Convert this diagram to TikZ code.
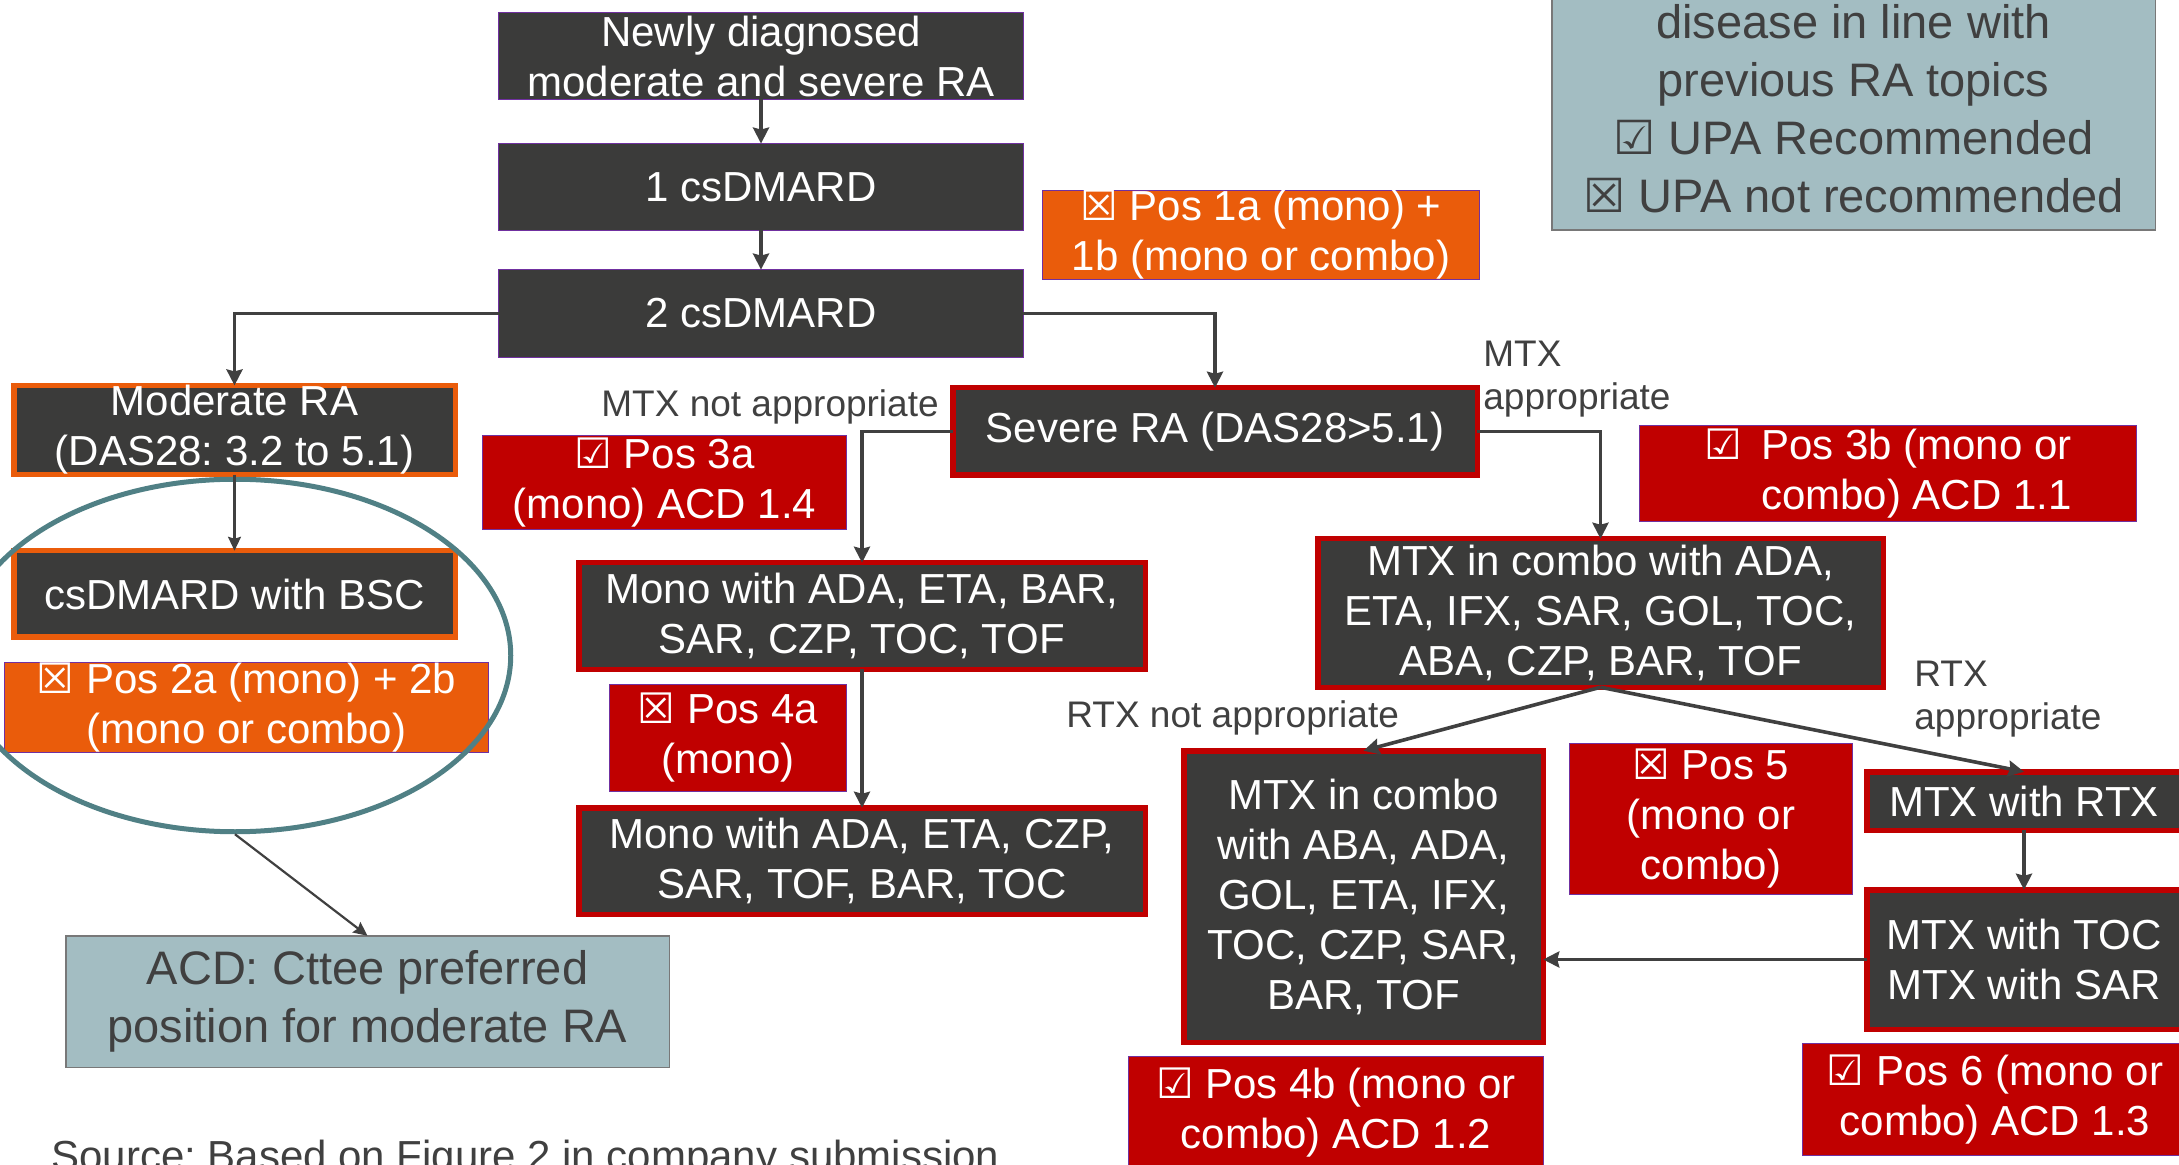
\documentclass[tikz,border=0pt]{standalone}
\usepackage{fontspec}
\setmainfont{Liberation Sans}
\newfontfamily\symf{DejaVu Sans}
\usetikzlibrary{shapes.geometric,arrows.meta}
\frenchspacing
\definecolor{boxdark}{RGB}{59,59,58}
\definecolor{orng}{RGB}{234,92,11}
\definecolor{redc}{RGB}{192,0,0}
\definecolor{purp}{RGB}{112,48,160}
\definecolor{legfill}{RGB}{163,189,194}
\definecolor{legline}{RGB}{120,120,120}
\definecolor{ellc}{RGB}{80,128,133}
\definecolor{txtgrey}{RGB}{64,64,64}
\definecolor{arrc}{RGB}{64,64,64}
\newcommand{\boxck}{{\symf ☑}}
\newcommand{\boxxx}{{\symf ☒}}
\tikzset{
  base/.style={rectangle, inner sep=0pt, outer sep=0pt, align=center, text=white, font=\fontsize{21}{25}\selectfont},
  dark/.style={base, fill=boxdark, draw=purp, line width=0.6pt},
  darkor/.style={base, fill=boxdark, draw=orng, line width=2.75pt},
  darkred/.style={base, fill=boxdark, draw=redc, line width=2.75pt},
  posor/.style={base, fill=orng, draw=purp, line width=0.6pt},
  posred/.style={base, fill=redc, draw=purp, line width=0.6pt},
  greybox/.style={base, fill=legfill, draw=legline, line width=0.75pt, text=txtgrey, font=\fontsize{23.5}{29}\selectfont},
  lbl/.style={inner sep=0pt, text=txtgrey, font=\fontsize{18.5}{21.5}\selectfont, align=left},
  conn/.style={draw=arrc, line width=1.8pt, -{Stealth[length=8pt,width=8pt,inset=1pt]}},
  thinconn/.style={draw=arrc, line width=1.1pt, -{Stealth[length=7pt,width=6.5pt,inset=1pt]}},
}
\begin{document}
\begin{tikzpicture}[x=0.5pt,y=-0.5pt]
\useasboundingbox (0,0) rectangle (2179,1165);
% top chain
\node[dark, minimum width=262.4pt, minimum height=43.4pt] (new) at (761,56) {Newly diagnosed\\moderate and severe RA};
\node[dark, minimum width=262.4pt, minimum height=43.4pt] (cs1) at (761,187) {1 csDMARD};
\node[dark, minimum width=262.4pt, minimum height=43.9pt] (cs2) at (761,313.5) {2 csDMARD};
\node[posor, minimum width=218.4pt, minimum height=43.4pt] (pos1) at (1261,235) {\boxxx{} Pos 1a (mono) +\\1b (mono or combo)};
% legend
\node[greybox, minimum width=301.75pt, minimum height=144.75pt] (legend) at (1853.5,85.5) {};
\node[inner sep=0pt, align=center, text=txtgrey, font=\fontsize{23.5}{29}\selectfont, anchor=south] (legtxt) at (1853.5,213)
  {disease in line with\\previous RA topics\\\boxck{} UPA Recommended\\\boxxx{} UPA not recommended};
% moderate branch
\node[darkor, minimum width=220.75pt, minimum height=44.25pt] (modRA) at (234.5,430) {Moderate RA\\(DAS28: 3.2 to 5.1)};
\node[darkor, minimum width=220.75pt, minimum height=43.25pt] (bsc) at (234.5,594) {csDMARD with BSC};
\node[posor, minimum width=241.9pt, minimum height=43.9pt] (pos2) at (246.5,707.5) {\boxxx{} Pos 2a (mono) + 2b\\(mono or combo)};
\node[greybox, minimum width=301.75pt, minimum height=65.75pt] (acd) at (367.5,1001.5) {ACD: Cttee preferred\\position for moderate RA};
% severe branch
\node[darkred, minimum width=262.25pt, minimum height=43.75pt] (severe) at (1215,431.5) {Severe RA (DAS28>5.1)};
\node[posred, minimum width=181.9pt, minimum height=46.9pt] (pos3a) at (664.5,482.5) {\boxck{} Pos 3a\\(mono) ACD 1.4};
\node[darkred, minimum width=283.25pt, minimum height=53.25pt] (mono1) at (862,616) {Mono with ADA, ETA, BAR,\\SAR, CZP, TOC, TOF};
\node[posred, minimum width=118.4pt, minimum height=53.4pt] (pos4a) at (728,738) {\boxxx{} Pos 4a\\(mono)};
\node[darkred, minimum width=283.25pt, minimum height=53.25pt] (mono2) at (862,861) {Mono with ADA, ETA, CZP,\\SAR, TOF, BAR, TOC};
\node[posred, minimum width=248.4pt, minimum height=47.9pt, align=left] (pos3b) at (1888,473.5)
  {\makebox[28.5pt][l]{\boxck}Pos 3b (mono or\\\hspace*{28.5pt}combo) ACD 1.1};
\node[darkred, minimum width=282.75pt, minimum height=74.25pt] (combo) at (1600.5,613) {MTX in combo with ADA,\\ETA, IFX, SAR, GOL, TOC,\\ABA, CZP, BAR, TOF};
\node[darkred, minimum width=179.75pt, minimum height=145.75pt] (combo2) at (1363.5,896.5) {MTX in combo\\with ABA, ADA,\\GOL, ETA, IFX,\\TOC, CZP, SAR,\\BAR, TOF};
\node[posred, minimum width=141.4pt, minimum height=75.4pt] (pos5) at (1711,819) {\boxxx{} Pos 5\\(mono or\\combo)};
\node[darkred, minimum width=157.25pt, minimum height=29.25pt] (rtx) at (2024,801) {MTX with RTX};
\node[darkred, minimum width=157.25pt, minimum height=69.75pt] (toc) at (2024,959.5) {MTX with TOC\\MTX with SAR};
\node[posred, minimum width=207.4pt, minimum height=55.9pt] (pos4b) at (1336,1112.5) {\boxck{} Pos 4b (mono or\\combo) ACD 1.2};
\node[posred, minimum width=192.4pt, minimum height=55.9pt] (pos6) at (1995,1099.5) {\boxck{} Pos 6 (mono or\\combo) ACD 1.3};
% labels
\node[lbl, anchor=base west] (lmtxn) at (601,417) {MTX not appropriate};
\node[lbl, anchor=south west] (lmtxa) at (1483,418) {MTX\\appropriate};
\node[lbl, anchor=base west] (lrtxn) at (1066,727) {RTX not appropriate};
\node[lbl, anchor=south west] (lrtxa) at (1914,738) {RTX\\appropriate};
\node[inner sep=0pt, anchor=base west, text=txtgrey, font=\fontsize{21}{25}\selectfont] (src) at (51,1170) {Source: Based on Figure 2 in company submission};
% ellipse
\node[ellipse, draw=ellc, line width=2.5pt, minimum width=275.75pt, minimum height=176.25pt, inner sep=0pt] (ell) at (235,655.5) {};
% connectors
\draw[conn] (new) -- (cs1);
\draw[conn] (cs1) -- (cs2);
\draw[conn] (cs2.west) -| (modRA.north);
\draw[conn] (cs2.east) -| (severe.north);
\draw[thinconn] (modRA) -- (bsc);
\draw[thinconn] (ell.south) -- (acd.north);
\draw[conn] (severe.west) -| (mono1.north);
\draw[conn] (mono1) -- (mono2);
\draw[conn] (severe.east) -| (combo.north);
\draw[conn] (combo.south) -- (combo2.north);
\draw[conn] (combo.south) -- (rtx.north);
\draw[conn] (rtx) -- (toc);
\draw[conn] (toc.west) -- (toc.west -| combo2.east);
\end{tikzpicture}
\end{document}
